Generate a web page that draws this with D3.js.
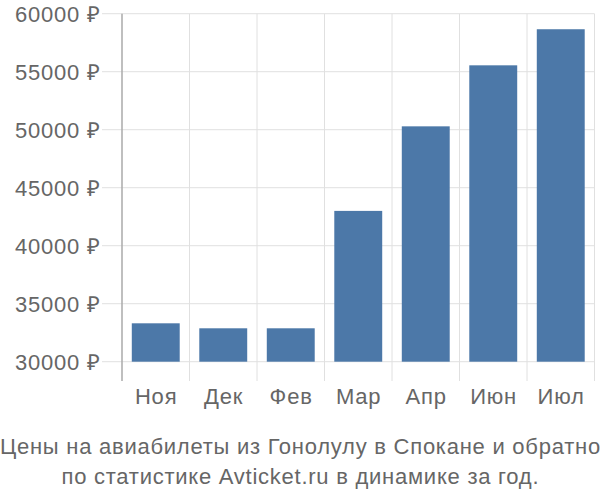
<!DOCTYPE html>
<html><head><meta charset="utf-8">
<script src="https://cdn.jsdelivr.net/npm/d3@7"></script>
<style>body{margin:0;background:#fff}svg{display:block}</style>
</head><body>
<svg id="c" width="600" height="500"></svg>
<script>
const months = ["Ноя","Дек","Фев","Мар","Апр","Июн","Июл"];
const prices = [33310, 32880, 32880, 43000, 50290, 55550, 58660];
const yTicks = [30000, 35000, 40000, 45000, 50000, 55000, 60000];
const titleLines = ["Цены на авиабилеты из Гонолулу в Спокане и обратно","по статистике Avticket.ru в динамике за год."];

const svg = d3.select("#c");
const pLeft = 122, pRight = 594.5, pTop = 13.7, pBottom = 361.7;
const x = d3.scaleBand().domain(months).range([pLeft, pRight]).paddingInner(0.29).paddingOuter(0.145);
const xg = d3.scaleBand().domain(months).range([pLeft, pRight]);
const y = d3.scaleLinear().domain([30000, 60000]).range([pBottom, pTop]);
const font = "'Liberation Sans', Arial, sans-serif";

// horizontal grid
svg.append("g").selectAll("line").data(yTicks).join("line")
  .attr("x1", 102).attr("x2", pRight)
  .attr("y1", d => y(d)).attr("y2", d => y(d))
  .attr("stroke", "#e0e0e0").attr("stroke-width", 1);
// vertical grid
const vx = months.map(m => xg(m)).concat([pRight]);
svg.append("g").selectAll("line").data(vx.slice(1)).join("line")
  .attr("x1", d => d).attr("x2", d => d)
  .attr("y1", pTop).attr("y2", 381)
  .attr("stroke", "#e0e0e0").attr("stroke-width", 1);

// bars
svg.append("g").selectAll("rect").data(months).join("rect")
  .attr("x", (d) => x(d)).attr("width", x.bandwidth())
  .attr("y", (d, i) => y(prices[i])).attr("height", (d, i) => y(30000) - y(prices[i]))
  .attr("fill", "#4c78a8");

// y axis line
svg.append("line").attr("x1", pLeft).attr("x2", pLeft).attr("y1", pTop).attr("y2", 381)
  .attr("stroke", "#aaaaaa").attr("stroke-width", 1.5);

// y labels
svg.append("g").selectAll("text").data(yTicks).join("text")
  .attr("x", 100.8).attr("y", d => y(d)).attr("dy", "0.36em")
  .attr("text-anchor", "end").attr("font-family", font).attr("font-size", 22)
  .attr("letter-spacing", "0.8px")
  .attr("fill", "#666").text(d => d + " ₽");

// x labels
svg.append("g").selectAll("text").data(months).join("text")
  .attr("x", d => xg(d) + xg.bandwidth() / 2 + 0.4).attr("y", 396).attr("dy", "0.36em")
  .attr("text-anchor", "middle").attr("font-family", font).attr("font-size", 22)
  .attr("letter-spacing", "0.8px")
  .attr("fill", "#666").text(d => d);

// title
svg.append("g").selectAll("text").data(titleLines).join("text")
  .attr("x", 300.4).attr("y", (d, i) => 446 + i * 30).attr("dy", "0.36em")
  .attr("text-anchor", "middle").attr("font-family", font).attr("font-size", 22)
  .attr("letter-spacing", "0.75px")
  .attr("fill", "#666").text(d => d);
</script>
</body></html>
